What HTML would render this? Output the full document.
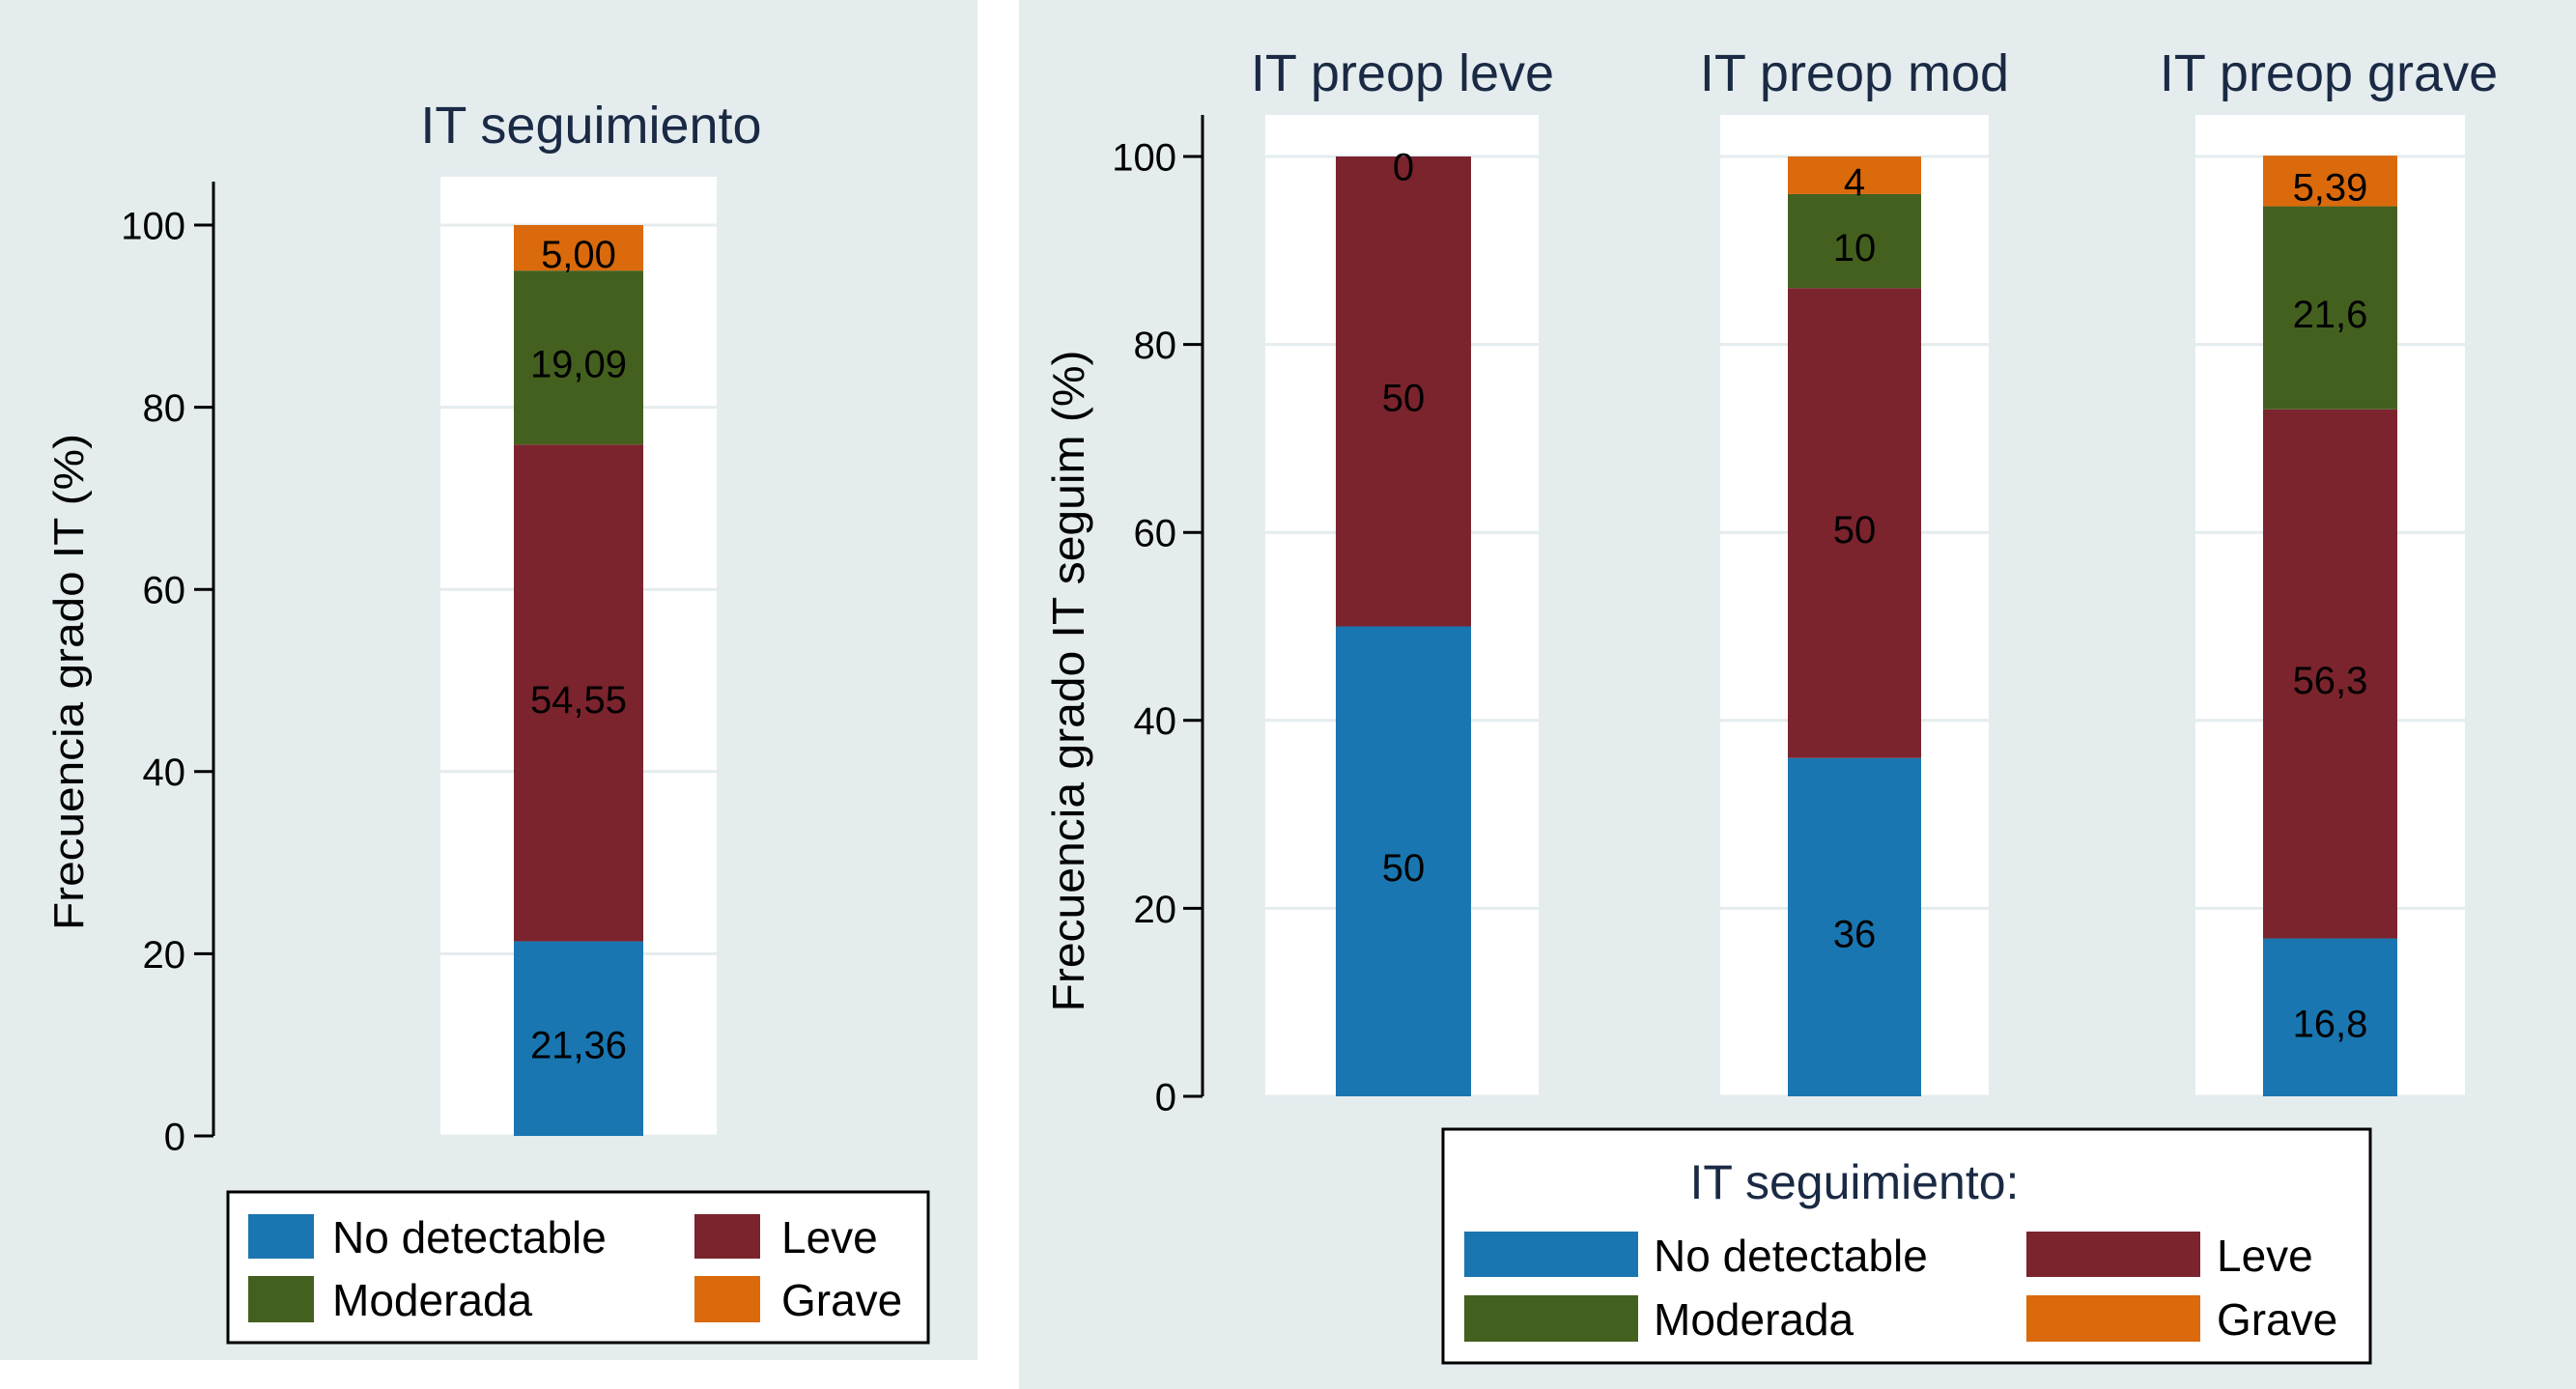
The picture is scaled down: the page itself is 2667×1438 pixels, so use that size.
<!DOCTYPE html>
<html><head><meta charset="utf-8"><style>
html,body{margin:0;padding:0;background:#fff;}
svg{display:block;font-family:"Liberation Sans",Arial,sans-serif;}
</style></head><body>
<svg id="chart" width="2667" height="1438" viewBox="0 0 2667 1438">
<rect x="0" y="0" width="1012" height="1408" fill="#e4ecee"/>
<rect x="1055" y="0" width="1612" height="1438" fill="#e4ecee"/>
<g id="left"></g>
<g id="right"></g>
<text x="612" y="148" font-size="54" fill="#1a2a44" text-anchor="middle">IT seguimiento</text>
<text transform="translate(86,706) rotate(-90)" font-size="44" fill="#000" text-anchor="middle" textLength="514" lengthAdjust="spacingAndGlyphs">Frecuencia grado IT (%)</text>
<text transform="translate(1122,705) rotate(-90)" font-size="46" fill="#000" text-anchor="middle" textLength="685" lengthAdjust="spacingAndGlyphs">Frecuencia grado IT seguim (%)</text>
<g>
<rect x="236" y="1234" width="725" height="156" fill="#fff" stroke="#000" stroke-width="3"/>
<rect x="257" y="1257" width="68" height="46" fill="#1a76b0"/>
<text x="344" y="1297" font-size="46">No detectable</text>
<rect x="719" y="1257" width="68" height="46" fill="#7b242d"/>
<text x="809" y="1297" font-size="46">Leve</text>
<rect x="257" y="1321" width="68" height="48" fill="#44601f"/>
<text x="344" y="1362" font-size="46">Moderada</text>
<rect x="719" y="1321" width="68" height="48" fill="#da6a0c"/>
<text x="809" y="1362" font-size="46">Grave</text>
</g>
<g>
<rect x="1494" y="1169" width="960" height="242" fill="#fff" stroke="#000" stroke-width="3"/>
<text x="1920" y="1241" font-size="50" fill="#1a2a44" text-anchor="middle">IT seguimiento:</text>
<rect x="1516" y="1275" width="180" height="47" fill="#1a76b0"/>
<text x="1712" y="1316" font-size="46">No detectable</text>
<rect x="2098" y="1275" width="180" height="47" fill="#7b242d"/>
<text x="2295" y="1316" font-size="46">Leve</text>
<rect x="1516" y="1341" width="180" height="48" fill="#44601f"/>
<text x="1712" y="1382" font-size="46">Moderada</text>
<rect x="2098" y="1341" width="180" height="48" fill="#da6a0c"/>
<text x="2295" y="1382" font-size="46">Grave</text>
</g>
</svg>
<script>
const NS = "http://www.w3.org/2000/svg";
const seriesNames = ["No detectable", "Leve", "Moderada", "Grave"];
const seriesColors = ["#1a76b0", "#7b242d", "#44601f", "#da6a0c"];
const yTicks = [0, 20, 40, 60, 80, 100];
const leftValues = [21.36, 54.55, 19.09, 5.00];
const leftLabels = ["21,36", "54,55", "19,09", "5,00"];
const rightCategories = ["IT preop leve", "IT preop mod", "IT preop grave"];
const noDetectable = [50, 36, 16.8];
const leve = [50, 50, 56.3];
const moderada = [0, 10, 21.6];
const grave = [0, 4, 5.39];
const rightLabels = [["50", "50", "", "0"], ["36", "50", "10", "4"], ["16,8", "56,3", "21,6", "5,39"]];

function mk(parent, tag, attrs) {
  const e = document.createElementNS(NS, tag);
  for (const k in attrs) e.setAttribute(k, attrs[k]);
  parent.appendChild(e);
  return e;
}

function drawPanel(g, y, plotX0, plotX1, plotTop, barX0, barX1, vals, labels, labelSize) {
  const bg = mk(g, "rect", {x: plotX0, y: plotTop, width: plotX1 - plotX0, height: y(0) - plotTop, fill: "#fff"});
  
  
  yTicks.forEach(t => {
    const gl = mk(g, "line", {x1: plotX0, x2: plotX1, y1: y(t), y2: y(t), stroke: "#e4ecee", "stroke-width": 3});
    
    
  });
  let cum = 0;
  vals.forEach((v, i) => {
    const r = mk(g, "rect", {x: barX0, y: y(cum + v), width: barX1 - barX0, height: y(cum) - y(cum + v), fill: seriesColors[i]});
    
    
    if (labels[i] !== "") {
      const t = mk(g, "text", {x: (barX0 + barX1) / 2, y: y(cum + v / 2) + labelSize * 0.36 + 6 + (v === 0 ? 4 : 0), "font-size": labelSize, "text-anchor": "middle", fill: "#000"});
      t.textContent = labels[i];
      
      
    }
    cum += v;
  });
}

function drawAxis(g, y, axisX, top, labelX, size) {
  const ax = mk(g, "line", {x1: axisX, x2: axisX, y1: top, y2: y(0), stroke: "#000", "stroke-width": 3});
  
  
  yTicks.forEach(t => {
    const tk = mk(g, "line", {x1: axisX - 20, x2: axisX, y1: y(t), y2: y(t), stroke: "#000", "stroke-width": 3});
    
    
    const lb = mk(g, "text", {x: labelX, y: y(t) + size * 0.36, "font-size": size, "text-anchor": "end"});
    lb.textContent = t;
    
    
  });
}

const yL = v => 1176 - v * (1176 - 233) / 100;
const gL = document.getElementById("left");
drawPanel(gL, yL, 456, 742, 183, 532, 666, leftValues, leftLabels, 40);
drawAxis(gL, yL, 221, 188, 192, 40);

const yR = v => 1135 - v * (1135 - 162) / 100;
const gR = document.getElementById("right");
const plotXs = [[1310, 1593], [1781, 2059], [2273, 2552]];
const barXs = [[1383, 1523], [1851, 1989], [2343, 2482]];
const titleX = [1452, 1920, 2411];
rightCategories.forEach((c, k) => {
  const sub = mk(gR, "g", {});
  
  
  const vals = [noDetectable[k], leve[k], moderada[k], grave[k]];
  drawPanel(sub, yR, plotXs[k][0], plotXs[k][1], 119, barXs[k][0], barXs[k][1], vals, rightLabels[k], 40);
  const tt = mk(sub, "text", {x: titleX[k], y: 94, "font-size": 54, "text-anchor": "middle", fill: "#1a2a44"});
  tt.textContent = c;
  
  
});
drawAxis(gR, yR, 1245, 119, 1218, 40);
</script>
</body></html>
